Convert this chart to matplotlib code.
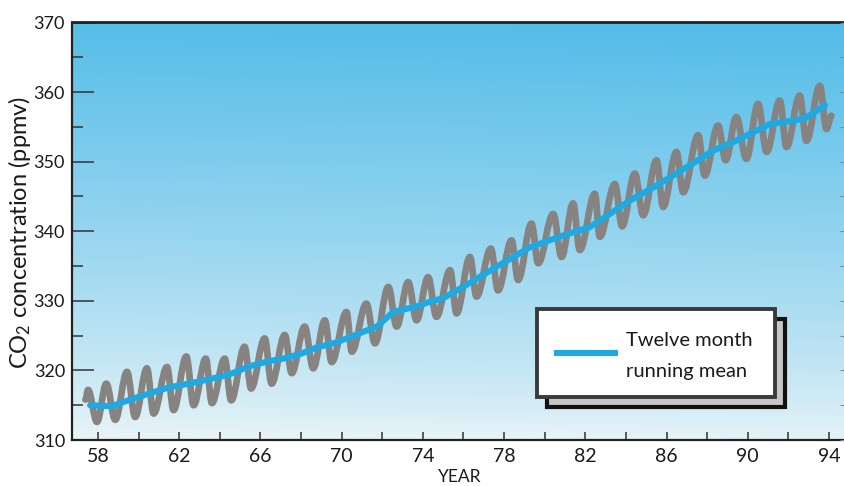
import numpy as np
import matplotlib
matplotlib.use("Agg")
import matplotlib.pyplot as plt
from matplotlib.path import Path
from matplotlib.patches import PathPatch, Rectangle
from matplotlib.lines import Line2D

plt.rcParams['font.family'] = ['Lato', 'DejaVu Sans']
plt.rcParams['mathtext.fontset'] = 'custom'
plt.rcParams['mathtext.rm'] = 'Lato'
plt.rcParams['mathtext.it'] = 'Lato:italic'
plt.rcParams['mathtext.bf'] = 'Lato:bold'

# ---------------- data ----------------
curve_start = [57.38, 315.8]
curve_end = [94.12, 356.6]

peak_years = [57.51, 58.41, 59.43, 60.41, 61.40, 62.35, 63.31, 64.24, 65.22, 66.21,
              67.20, 68.18, 69.17, 70.24, 71.22, 72.30, 73.28, 74.26, 75.34, 76.32,
              77.35, 78.37, 79.35, 80.42, 81.40, 82.47, 83.46, 84.44, 85.51, 86.49,
              87.56, 88.54, 89.44, 90.51, 91.58, 92.56, 93.55]
peak_ppm = [317.2, 318.1, 319.8, 320.3, 320.5, 322.0, 321.7, 321.7, 323.4, 324.6,
            325.1, 326.3, 327.2, 328.4, 329.6, 332.0, 332.7, 333.4, 334.4, 336.3,
            337.5, 338.7, 341.1, 342.5, 344.0, 345.4, 346.8, 348.3, 350.2, 351.4,
            353.8, 355.2, 356.4, 358.3, 358.8, 359.5, 360.9]

trough_years = [57.95, 58.85, 59.83, 60.74, 61.72, 62.71, 63.61, 64.56, 65.54, 66.55,
                67.54, 68.60, 69.51, 70.50, 71.64, 72.71, 73.69, 74.67, 75.66, 76.64,
                77.70, 78.69, 79.68, 80.83, 81.73, 82.71, 83.81, 84.85, 85.83, 86.82,
                87.88, 88.91, 89.93, 90.93, 91.91, 92.89, 93.88]
trough_ppm = [312.6, 312.9, 313.3, 313.8, 314.3, 315.0, 315.3, 315.7, 317.4, 318.1,
              319.6, 320.3, 321.2, 322.7, 323.9, 326.3, 327.2, 327.7, 328.2, 330.6,
              331.5, 333.0, 335.4, 336.3, 337.3, 339.2, 340.7, 342.3, 343.5, 345.6,
              348.0, 350.2, 350.4, 351.4, 352.1, 353.0, 354.7]

mean_years = [57.61, 58.29, 58.69, 60.00, 61.42, 62.63, 63.28, 64.45, 65.46, 66.37,
              67.12, 67.99, 68.77, 69.71, 70.42, 71.73, 72.54, 73.69, 74.36, 75.01,
              75.98, 77.63, 79.27, 80.91, 82.22, 83.21, 84.19, 85.35, 86.99, 88.31,
              89.42, 91.08, 92.23, 92.81, 93.80]
mean_ppm = [315.0, 314.9, 314.9, 316.2, 317.5, 318.2, 318.6, 319.4, 320.6, 321.3,
            321.7, 322.4, 323.3, 324.0, 324.8, 326.3, 328.4, 329.2, 329.9, 330.4,
            332.0, 334.9, 337.7, 339.4, 340.6, 342.5, 344.4, 346.3, 349.2, 351.6,
            353.0, 355.4, 355.9, 356.2, 358.1]

x_major = [58, 62, 66, 70, 74, 78, 82, 86, 90, 94]
x_minor = [60, 64, 68, 72, 76, 80, 84, 88, 92]
y_major = [310, 320, 330, 340, 350, 360, 370]
y_minor = [315, 325, 335, 345, 355, 365]
legend_lines = ["Twelve month", "running mean"]

# ---------------- figure ----------------
W, H = 845, 486
fig = plt.figure(figsize=(W / 100, H / 100), dpi=100)
fig.patch.set_facecolor('white')

ax_left, ax_right, ax_top, ax_bottom = 72, 845, 22.5, 440
ax = fig.add_axes([ax_left / W, 1 - ax_bottom / H, (ax_right - ax_left) / W,
                   (ax_bottom - ax_top) / H])
xmin, xmax = 56.72, 94.79
ymin, ymax = 310, 370
ax.set_xlim(xmin, xmax)
ax.set_ylim(ymin, ymax)

# background gradient (mostly vertical)
ny, nx = 200, 200
v = np.linspace(0, 1, ny)[:, None]          # 0 bottom -> 1 top
h = np.linspace(0, 1, nx)[None, :]          # 0 left -> 1 right
t = np.clip(0.97 * v ** 0.8 + 0.03 * h, 0, 1)
top = np.array([82, 188, 232]) / 255
bot = np.array([236, 245, 248]) / 255
img = bot[None, None, :] + (top - bot)[None, None, :] * t[:, :, None]
ax.imshow(img, extent=[xmin, xmax, ymin, ymax], origin='lower', aspect='auto',
          zorder=0, interpolation='bilinear')

# seasonal curve: smooth path through peaks and troughs
pts = [tuple(curve_start)]
for py, pp, ty, tp in zip(peak_years, peak_ppm, trough_years, trough_ppm):
    pts.append((py, pp))
    pts.append((ty, tp))
pts.append(tuple(curve_end))
verts = [pts[0]]
codes = [Path.MOVETO]
for (x0, y0), (x1, y1) in zip(pts[:-1], pts[1:]):
    dx = x1 - x0
    verts += [(x0 + 0.37 * dx, y0), (x1 - 0.37 * dx, y1), (x1, y1)]
    codes += [Path.CURVE4] * 3
patch = PathPatch(Path(verts, codes), facecolor='none', edgecolor='#878380',
                  lw=4.8, capstyle='round', joinstyle='round', zorder=3)
ax.add_patch(patch)

# running mean
ax.plot(mean_years, mean_ppm, color='#1fa9e1', lw=4.4, solid_joinstyle='round',
        solid_capstyle='round', zorder=4)

# spines
for s in ['left', 'bottom', 'top']:
    ax.spines[s].set_color('#222222')
    ax.spines[s].set_linewidth(1.6)
ax.spines['top'].set_linewidth(2.0)
ax.spines['right'].set_visible(False)

# ticks
ax.set_xticks(x_major)
ax.set_xticks(x_minor, minor=True)
ax.set_yticks(y_major)
ax.set_yticks(y_minor, minor=True)
ax.set_xticklabels([str(v) for v in x_major])
ax.set_yticklabels([str(v) for v in y_major])
ax.tick_params(axis='x', which='both', direction='in', length=5.8, width=1.1,
               color='#333333', top=False, labelsize=14, pad=6,
               labelcolor='#1a1a1a')
ax.tick_params(axis='y', which='major', direction='in', length=15.8, width=1.1,
               color='#333333', right=False, labelsize=13, pad=5,
               labelcolor='#1a1a1a')
ax.tick_params(axis='y', which='minor', direction='in', length=7.9, width=1.1,
               color='#333333', right=False)

# faint right-hand ticks
ax2 = ax.twinx()
ax2.set_ylim(ymin, ymax)
ax2.set_yticks(y_major + y_minor)
ax2.tick_params(axis='y', direction='in', length=3.5, width=0.8,
                color='#6f8fa0', labelright=False)
for s in ax2.spines.values():
    s.set_visible(False)

# axis labels
fig.text(20 / W, 1 - 232 / H, 'CO$_2$ concentration (ppmv)', rotation=90,
         ha='center', va='center', fontsize=17, color='#1a1a1a')
fig.text(460 / W, 1 - 477 / H, 'YEAR', ha='center', va='center', fontsize=12.5,
         color='#1a1a1a')

# legend box with drop shadow (pixel positions)
def fx(x):
    return x / W

def fy(y):
    return 1 - y / H

shadow = Rectangle((fx(547), fy(407)), fx(785) - fx(547), fy(319) - fy(407),
                   transform=fig.transFigure, facecolor='#c6c6c6',
                   edgecolor='#111111', lw=3.0, zorder=10)
box = Rectangle((fx(537), fy(397)), fx(775) - fx(537), fy(309) - fy(397),
                transform=fig.transFigure, facecolor='white',
                edgecolor='#3a3a3a', lw=2.8, zorder=11)
fig.add_artist(shadow)
fig.add_artist(box)
fig.add_artist(Line2D([fx(557), fx(615)], [fy(353), fy(353)],
                      transform=fig.transFigure, color='#1fa9e1', lw=4.4,
                      zorder=12))
fig.text(fx(626), fy(346.5), legend_lines[0], ha='left', va='baseline',
         fontsize=14.5, color='#1a1a1a', zorder=12)
fig.text(fx(626), fy(376.5), legend_lines[1], ha='left', va='baseline',
         fontsize=14.5, color='#1a1a1a', zorder=12)

fig.savefig('out.png', dpi=100)
